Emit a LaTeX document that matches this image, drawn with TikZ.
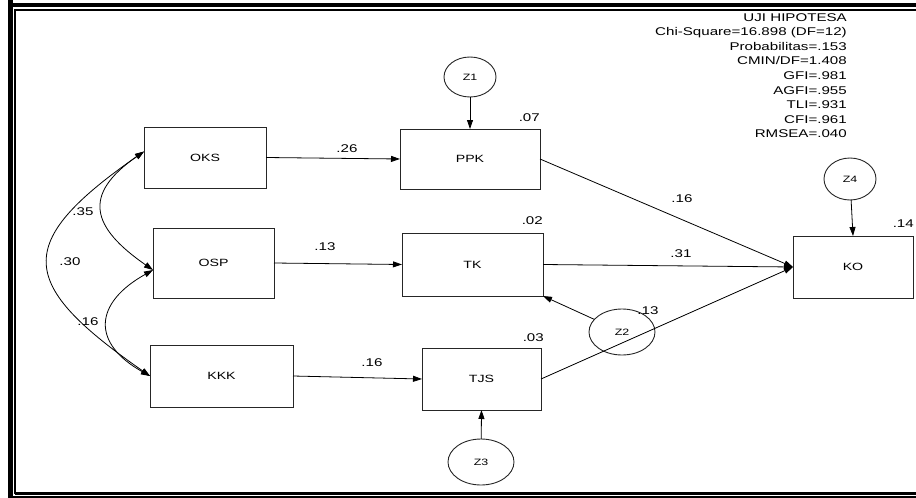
\documentclass[tikz,border=0pt]{standalone}
\usepackage{fontspec}
\setmainfont{Liberation Sans}
\newfontfamily\labfont{Liberation Sans}[FakeStretch=1.35]
\usetikzlibrary{arrows.meta,shapes.geometric}
\begin{document}
\begin{tikzpicture}[x=1pt,y=-1pt,
  box/.style={draw=black!85, line width=0.9pt, inner sep=0pt, outer sep=0pt,
    font=\labfont\fontsize{10.5}{12}\selectfont},
  err/.style={draw=black!85, line width=0.9pt, ellipse, inner sep=0pt, outer sep=0pt,
    font=\labfont\fontsize{9.2}{11}\selectfont},
  coef/.style={inner sep=0pt, font=\labfont\fontsize{11.2}{13}\selectfont},
  stat/.style={inner sep=0pt, anchor=base east, font=\labfont\fontsize{11.2}{13}\selectfont},
  arr/.style={line width=0.8pt, -{Triangle[length=9pt,width=6pt]}},
  dbl/.style={line width=0.8pt, {Triangle[length=9pt,width=6pt]}-{Triangle[length=9pt,width=6pt]}},
  frthick/.style={line width=4.5pt},
  frthin/.style={line width=1.8pt},
]
\useasboundingbox (0,0) rectangle (916,498);
% frame
\draw[frthick] (10.5,0) -- (10.5,498);
\draw[frthick] (8,5.2) -- (916,5.2);
\draw[frthin] (15,10) -- (916,10);
\draw[frthin] (15,9.2) -- (15,494);
\draw[line width=3pt] (15,493.5) -- (916,493.5);
\draw[line width=1.5pt] (10.5,496.8) -- (916,496.8);

% observed variables
\node[box, minimum width=122, minimum height=61] (OKS) at (205,157.5) {OKS};
\node[box, minimum width=140, minimum height=60] (PPK) at (470,159) {PPK};
\node[box, minimum width=121, minimum height=70] (OSP) at (213.5,263) {OSP};
\node[box, minimum width=141, minimum height=63] (TK) at (472.5,264.5) {TK};
\node[box, minimum width=143, minimum height=62] (KKK) at (221.5,376) {KKK};
\node[box, minimum width=119, minimum height=62] (TJS) at (481.5,379) {TJS};
\node[box, minimum width=120, minimum height=62] (KO) at (853,267) {KO};

% error terms
\node[err, minimum width=52, minimum height=40] (Z1) at (470,77) {Z1};
\node[err, minimum width=66, minimum height=46] (Z2) at (622,332) {Z2};
\node[err, minimum width=66, minimum height=46] (Z3) at (481,462) {Z3};
\node[err, minimum width=52, minimum height=42] (Z4) at (850,179) {Z4};

% squared multiple correlations
\node[coef, anchor=east] (r1) at (540,118) {.07};
\node[coef, anchor=east] (r2) at (543,221) {.02};
\node[coef, anchor=east] (r3) at (544,338) {.03};
\node[coef, anchor=east] (r4) at (914,224) {.14};

% paths
\draw[arr] (Z1) -- (PPK.north);
\draw[arr] (Z4) -- (KO.north);
\draw[arr] (Z3) -- (TJS.south);
\draw[arr] (Z2) -- (TK.south east);
\draw[arr] (OKS.east) -- (PPK.west);
\draw[arr] (OSP.east) -- (TK.west);
\draw[arr] (KKK.east) -- (TJS.west);
\draw[arr] (PPK.east) -- (KO.west);
\draw[arr] (TK.east) -- (KO.west);
\draw[arr] (TJS.east) -- (KO.west);

% covariances
\coordinate (oksL) at ([yshift=6pt]OKS.west);
\coordinate (ospL) at ([yshift=-7pt]OSP.west);
\draw[dbl] (oksL) .. controls +(-62,43) and +(-62,-43) .. (ospL);
\draw[dbl] (ospL) .. controls +(-59,33) and +(-59,-33) .. (KKK.west);
\draw[dbl] (oksL) .. controls +(-132,92) and +(-132,-92) .. (KKK.west);

% coefficients
\node[coef] (c1) at (347,149) {.26};
\node[coef] (c2) at (325,247) {.13};
\node[coef] (c3) at (372,363) {.16};
\node[coef] (c4) at (682,199) {.16};
\node[coef] (c5) at (681,254) {.31};
\node[coef] (c6) at (648,311) {.13};
\node[coef] (c7) at (83,212) {.35};
\node[coef] (c8) at (70,262) {.30};
\node[coef] (c9) at (88,322) {.16};

% fit statistics
\node[stat] (s1) at (847,21) {UJI HIPOTESA};
\node[stat] (s2) at (847,35.6) {Chi-Square=16.898 (DF=12)};
\node[stat] (s3) at (847,50.2) {Probabilitas=.153};
\node[stat] (s4) at (847,64.8) {CMIN/DF=1.408};
\node[stat] (s5) at (847,79.4) {GFI=.981};
\node[stat] (s6) at (847,94) {AGFI=.955};
\node[stat] (s7) at (847,108.6) {TLI=.931};
\node[stat] (s8) at (847,123.2) {CFI=.961};
\node[stat] (s9) at (847,137.8) {RMSEA=.040};
\end{tikzpicture}
\end{document}
